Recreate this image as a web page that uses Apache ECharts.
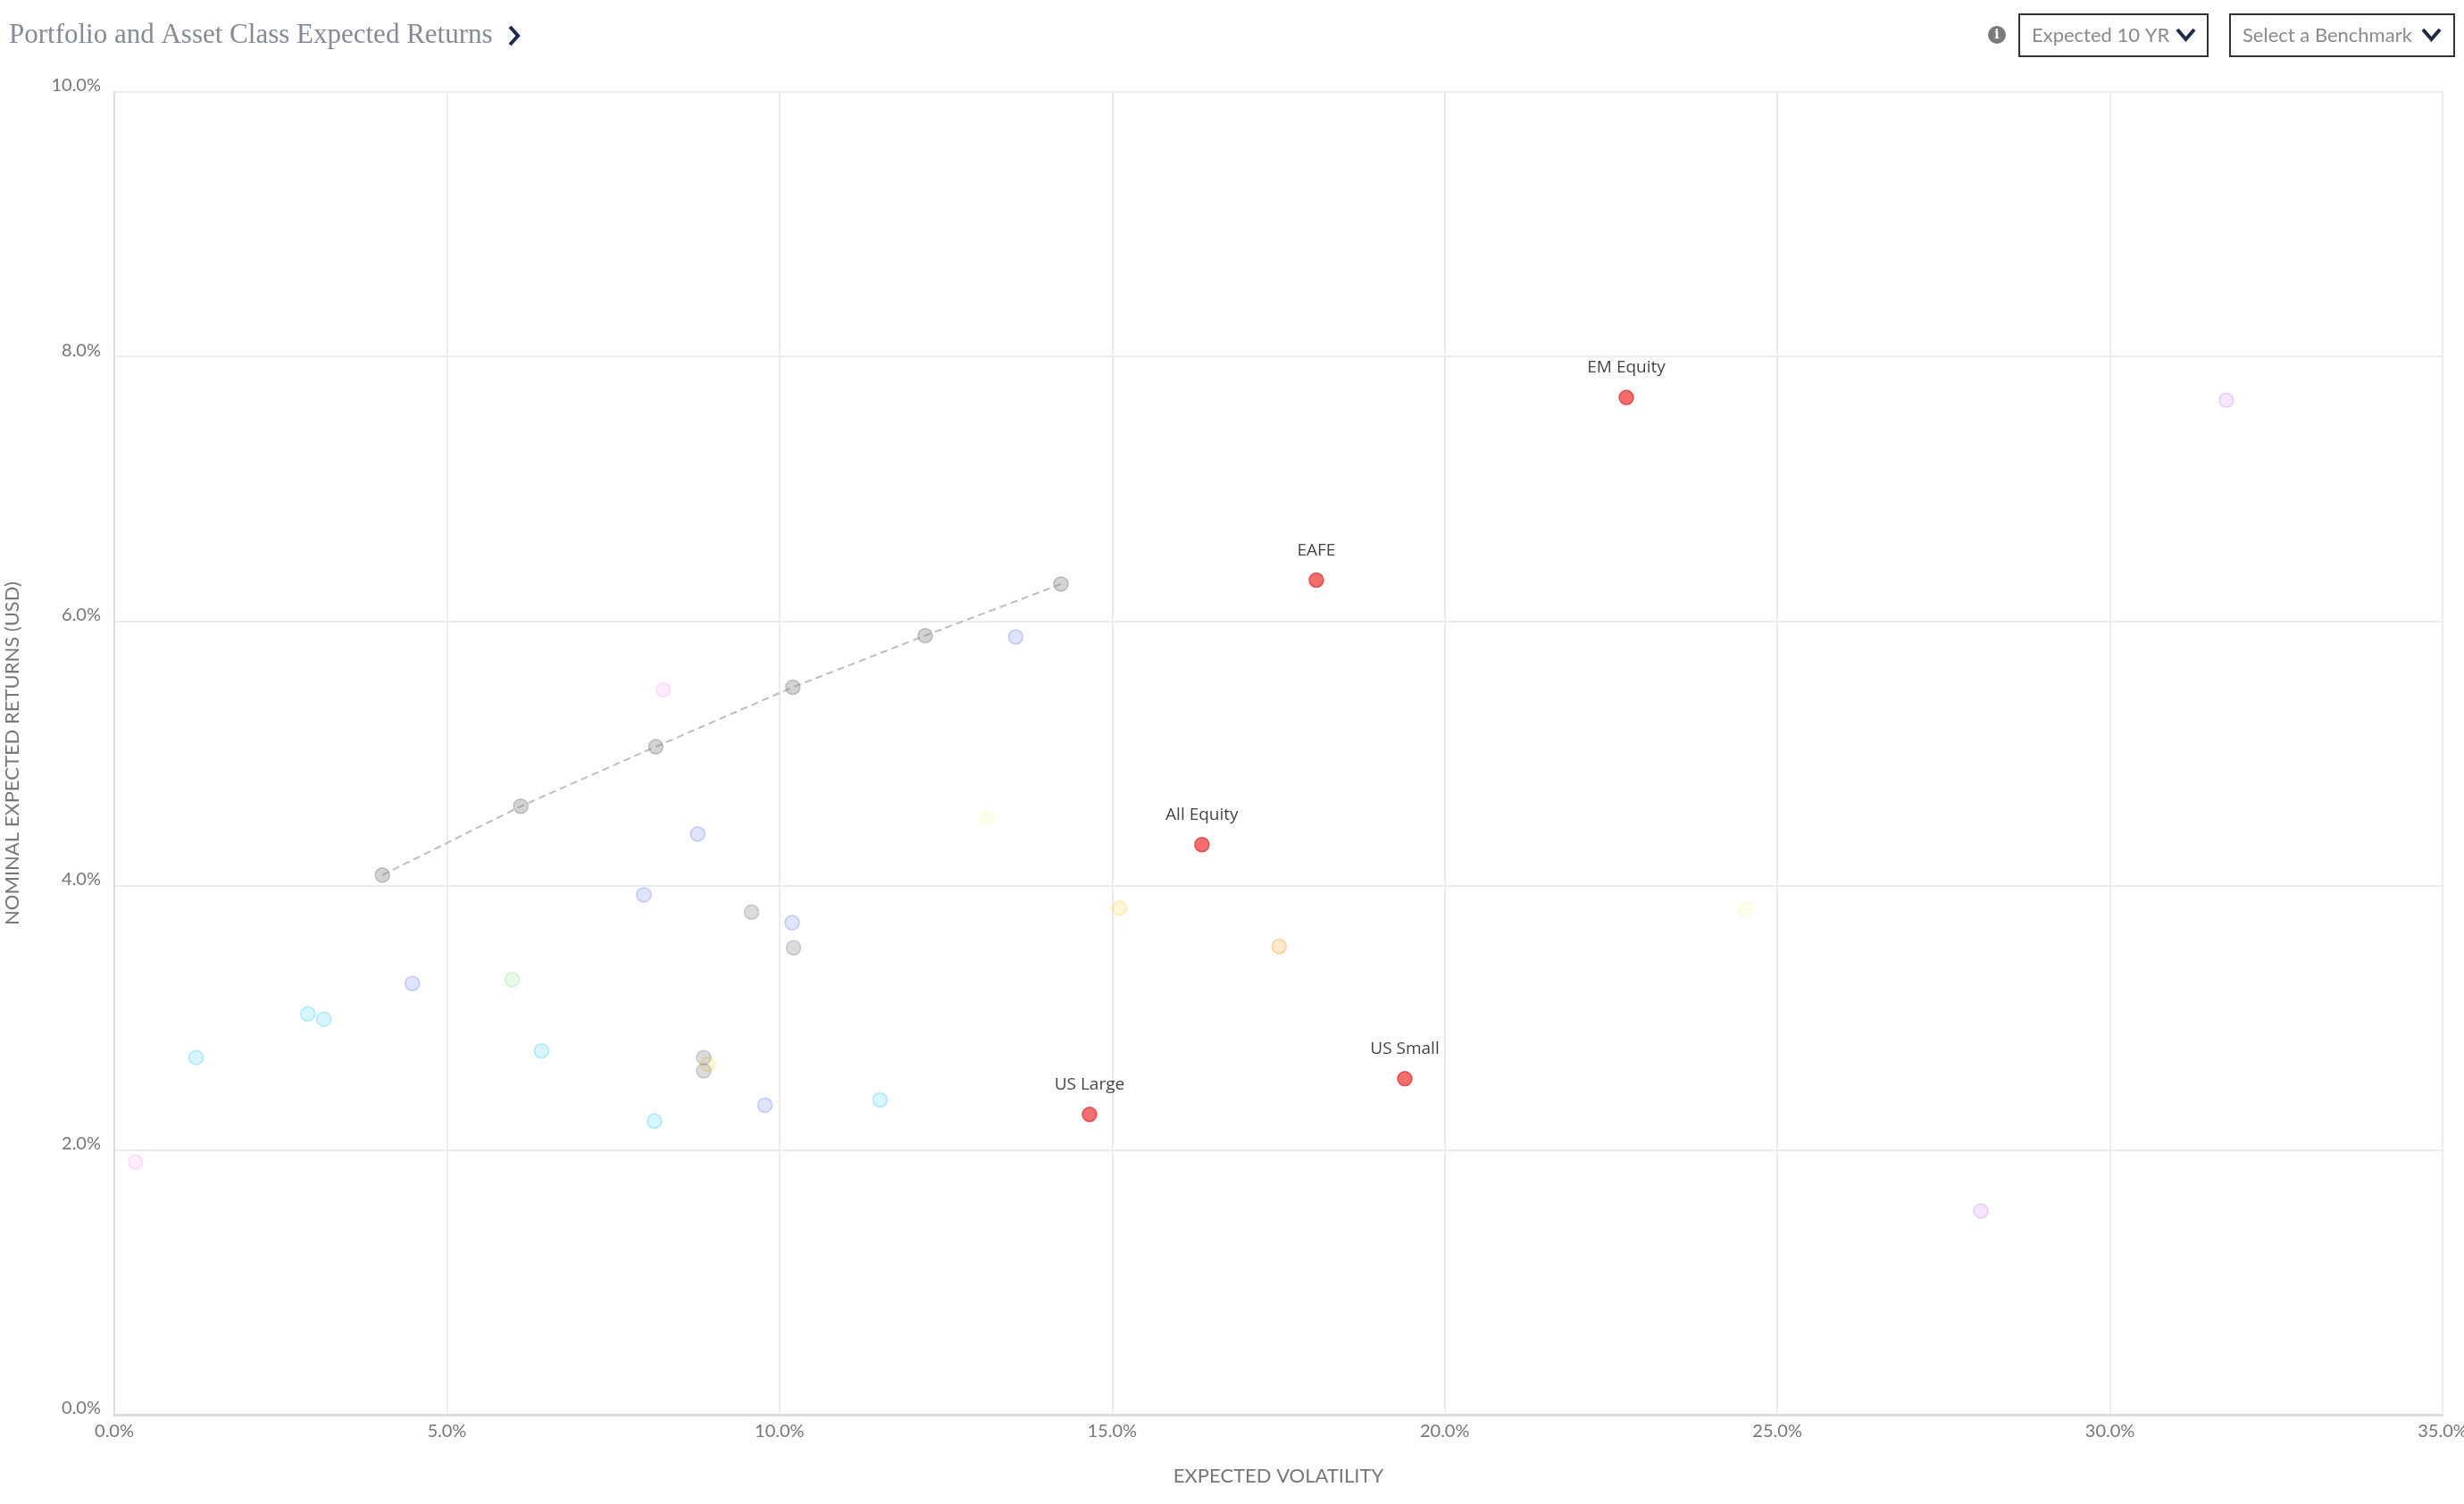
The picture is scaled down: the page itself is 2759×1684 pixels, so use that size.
<!DOCTYPE html>
<html>
<head>
<meta charset="utf-8">
<title>Portfolio and Asset Class Expected Returns</title>
<script src="https://cdn.jsdelivr.net/npm/echarts@6/dist/echarts.min.js"></script>
<style>
  html, body { margin: 0; padding: 0; background: #fff; }
  #chart { width: 2759px; height: 1684px; }
</style>
</head>
<body>
<div id="chart"></div>
<script>
// axis ticks (percent)
const xTicks = [0, 5, 10, 15, 20, 25, 30, 35]
const yTicks = [0, 2, 4, 6, 8, 10]

// labelled equity asset classes (red)
const equityNames = ['EM Equity', 'EAFE', 'All Equity', 'US Small', 'US Large']
const equityVol = [22.73, 18.07, 16.35, 19.40, 14.66]
const equityRet = [7.69, 6.31, 4.31, 2.54, 2.27]

// efficient frontier portfolios (dashed gray)
const frontierVol = [4.03, 6.11, 8.14, 10.20, 12.19, 14.23]
const frontierRet = [4.08, 4.60, 5.05, 5.50, 5.89, 6.28]

// other portfolios (gray)
const portfolioVol = [9.58, 10.21, 8.86, 8.86]
const portfolioRet = [3.80, 3.53, 2.70, 2.60]

// faded asset classes
const bondVol = [1.23, 2.91, 3.15, 6.42, 8.12, 11.51]
const bondRet = [2.70, 3.03, 2.99, 2.75, 2.22, 2.38]
const creditVol = [4.48, 7.96, 8.77, 10.19, 9.78, 13.55]
const creditRet = [3.26, 3.93, 4.39, 3.72, 2.34, 5.88]
const cashVol = [0.32, 8.25]
const cashRet = [1.91, 5.48]
const tipsVol = [5.98]
const tipsRet = [3.29]
const realVol = [13.12, 24.52]
const realRet = [4.51, 3.82]
const reitVol = [15.11, 8.92]
const reitRet = [3.83, 2.65]
const infraVol = [17.51]
const infraRet = [3.54]
const altVol = [31.75, 28.06]
const altRet = [7.67, 1.54]

function pairs (xs, ys) {
  return xs.map((x, i) => [x, ys[i]])
}

function faded (name, xs, ys, rgb, alpha) {
  return {
    name,
    type: 'scatter',
    symbolSize: 16,
    z: 2,
    itemStyle: {
      color: `rgba(${rgb},${alpha})`,
      borderColor: `rgba(${rgb},${Math.min(alpha * 1.7, 1)})`,
      borderWidth: 1.5
    },
    data: pairs(xs, ys)
  }
}

const chart = echarts.init(document.getElementById('chart'))

const axisFont = { fontFamily: 'Lato', fontSize: 20, color: '#777' }

chart.setOption({
  animation: false,
  backgroundColor: '#fff',
  grid: { left: 128, right: 24, top: 103, bottom: 100, containLabel: false, outerBoundsMode: 'none' },
  xAxis: {
    type: 'value',
    min: xTicks[0],
    max: xTicks[xTicks.length - 1],
    interval: 5,
    name: 'EXPECTED VOLATILITY',
    nameLocation: 'middle',
    nameGap: 58,
    nameTextStyle: { fontFamily: 'Lato', fontSize: 22, color: '#777' },
    axisLine: { show: true, lineStyle: { color: '#dcdcdc', width: 3 } },
    axisTick: { show: false },
    axisLabel: Object.assign({ margin: 9, formatter: v => v.toFixed(1) + '%' }, axisFont),
    splitLine: { show: true, lineStyle: { color: '#ececec', width: 2 } }
  },
  yAxis: {
    type: 'value',
    min: yTicks[0],
    max: yTicks[yTicks.length - 1],
    interval: 2,
    name: 'NOMINAL EXPECTED RETURNS (USD)',
    nameLocation: 'middle',
    nameGap: 103,
    nameTextStyle: { fontFamily: 'Lato', fontSize: 22, color: '#777' },
    axisLine: { show: true, lineStyle: { color: '#dcdcdc', width: 2 } },
    axisTick: { show: false },
    axisLabel: Object.assign({ margin: 15, verticalAlign: 'bottom', lineHeight: 14, formatter: v => v.toFixed(1) + '%' }, axisFont),
    splitLine: { show: true, lineStyle: { color: '#ececec', width: 2 } }
  },
  graphic: [
    {
      type: 'text', left: 10, top: 24,
      style: { text: 'Portfolio and Asset Class Expected Returns', fontFamily: 'Liberation Serif', fontSize: 31, fill: '#868a96' }
    },
    {
      type: 'polyline', shape: { points: [[571, 30], [580, 40], [571, 50]] },
      style: { stroke: '#1d2b4a', lineWidth: 4, fill: null }
    },
    { type: 'circle', shape: { cx: 2236, cy: 39, r: 10 }, style: { fill: '#7a7a7a' } },
    {
      type: 'text', x: 2236, y: 39,
      style: { text: 'i', fontFamily: 'DejaVu Serif', fontWeight: 'bold', fontSize: 14, fill: '#fff', align: 'center', verticalAlign: 'middle' }
    },
    { type: 'rect', shape: { x: 2261, y: 16, width: 211, height: 47 }, style: { fill: '#fff', stroke: '#333', lineWidth: 2 } },
    {
      type: 'text', x: 2275, y: 40,
      style: { text: 'Expected 10 YR', fontFamily: 'Lato', fontSize: 22, fill: '#8a8a8a', verticalAlign: 'middle' }
    },
    {
      type: 'polyline', shape: { points: [[2438, 33], [2447.5, 44], [2457, 33]] },
      style: { stroke: '#1d2b4a', lineWidth: 4, fill: null }
    },
    { type: 'rect', shape: { x: 2497, y: 16, width: 251, height: 47 }, style: { fill: '#fff', stroke: '#333', lineWidth: 2 } },
    {
      type: 'text', x: 2511, y: 40,
      style: { text: 'Select a Benchmark', fontFamily: 'Lato', fontSize: 22, fill: '#8a8a8a', verticalAlign: 'middle' }
    },
    {
      type: 'polyline', shape: { points: [[2713, 33], [2722.5, 44], [2732, 33]] },
      style: { stroke: '#1d2b4a', lineWidth: 4, fill: null }
    }
  ],
  series: [
    faded('Fixed Income', bondVol, bondRet, '0,190,255', 0.2),
    faded('Credit', creditVol, creditRet, '40,70,255', 0.18),
    faded('Cash', cashVol, cashRet, '255,80,230', 0.13),
    faded('TIPS', tipsVol, tipsRet, '60,220,60', 0.16),
    faded('Real Assets', realVol, realRet, '255,240,80', 0.13),
    faded('REITs', reitVol, reitRet, '255,210,50', 0.24),
    faded('Infrastructure', infraVol, infraRet, '255,150,30', 0.28),
    faded('Alternatives', altVol, altRet, '180,80,240', 0.18),
    {
      name: 'Portfolios',
      type: 'scatter',
      symbolSize: 16,
      z: 3,
      itemStyle: { color: 'rgba(140,140,140,0.38)', borderColor: 'rgba(140,140,140,0.5)', borderWidth: 1.5 },
      data: pairs(portfolioVol, portfolioRet)
    },
    {
      name: 'Frontier',
      type: 'line',
      symbol: 'circle',
      symbolSize: 16,
      z: 3,
      lineStyle: { color: '#bdbdbd', width: 2, type: [8, 5] },
      itemStyle: { color: 'rgba(140,140,140,0.38)', borderColor: 'rgba(140,140,140,0.5)', borderWidth: 1.5 },
      data: pairs(frontierVol, frontierRet)
    },
    {
      name: 'Equity',
      type: 'scatter',
      symbolSize: 16,
      z: 5,
      itemStyle: { color: '#f44848', borderColor: '#d53a3a', borderWidth: 1.5 },
      label: {
        show: true,
        position: 'top',
        distance: 15,
        formatter: p => p.name,
        fontFamily: 'Open Sans',
        fontSize: 19,
        color: '#111'
      },
      data: equityNames.map((n, i) => ({ name: n, value: [equityVol[i], equityRet[i]] }))
    }
  ]
})
</script>
</body>
</html>
